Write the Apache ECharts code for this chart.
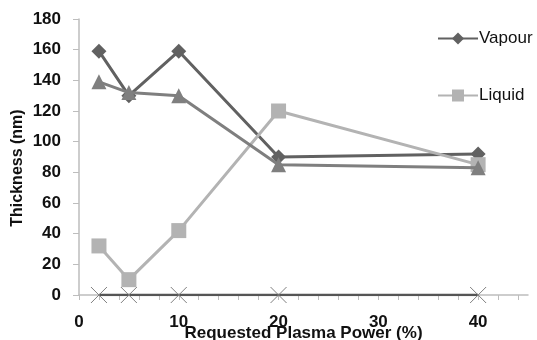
<!DOCTYPE html>
<html>
<head>
<meta charset="utf-8">
<script src="https://cdn.jsdelivr.net/npm/echarts@6/dist/echarts.min.js"></script>
<style>html,body{margin:0;padding:0;background:#fff}#c{width:537px;height:340px}</style>
</head>
<body>
<div id="c"></div>
<script>
var power = [2, 5, 10, 20, 40];
var vapour = [159, 130, 159, 90, 92];
var series3 = [139, 132, 130, 85, 83];
var liquid = [32, 10, 42, 120, 85];
var series4 = [0, 0, 0, 0, 0];
var xTicks = [0, 10, 20, 30, 40];
var yTicks = [0, 20, 40, 60, 80, 100, 120, 140, 160, 180];

function pairs(xs, ys) { return xs.map(function (x, i) { return [x, ys[i]]; }); }

var font = '"Liberation Sans", Arial, sans-serif';
var chart = echarts.init(document.getElementById('c'), null, {renderer: 'canvas'});
chart.setOption({
  animation: false,
  backgroundColor: '#fff',
  grid: {left: 79, top: 19, right: 9, bottom: 45, containLabel: false, outerBoundsMode: 'none'},
  legend: {
    orient: 'vertical', left: 432, top: 25, itemWidth: 40, itemHeight: 15, itemGap: 40,
    data: ['Vapour', 'Liquid'],
    textStyle: {fontFamily: font, fontSize: 17, color: '#111', padding: [0, 0, 0, -4]}
  },
  xAxis: {
    type: 'value', min: 0, max: 45, interval: 2,
    name: 'Requested Plasma Power (%)', nameLocation: 'middle', nameGap: 30, nameMoveOverlap: false,
    nameTextStyle: {fontFamily: font, fontSize: 17, fontWeight: 'bold', color: '#111'},
    axisLine: {lineStyle: {color: '#bdbdbd', width: 1.5}},
    axisTick: {show: true, length: 5, inside: false, lineStyle: {color: '#bdbdbd'}},
    splitLine: {show: false},
    axisLabel: {
      margin: 19, fontFamily: font, fontSize: 17, fontWeight: 'bold', color: '#111',
      showMaxLabel: false, interval: 0,
      formatter: function (v) { return xTicks.indexOf(v) >= 0 ? String(v) : ''; }
    }
  },
  yAxis: {
    type: 'value', min: 0, max: 180, interval: 20,
    name: 'Thickness (nm)', nameLocation: 'middle', nameGap: 53, nameMoveOverlap: false,
    nameTextStyle: {fontFamily: font, fontSize: 16, fontWeight: 'bold', color: '#111', padding: [0, 22, 0, 0]},
    axisLine: {show: true, lineStyle: {color: '#bdbdbd', width: 1.5}},
    axisTick: {show: true, length: 6, lineStyle: {color: '#bdbdbd'}},
    splitLine: {show: false},
    axisLabel: {
      margin: 18, fontFamily: font, fontSize: 17, fontWeight: 'bold', color: '#111',
      formatter: function (v) { return yTicks.indexOf(v) >= 0 ? String(v) : ''; }
    }
  },
  series: [
    {
      name: 'Vapour', type: 'line', data: pairs(power, vapour), z: 3,
      symbol: 'diamond', symbolSize: 15,
      lineStyle: {color: '#616161', width: 3}, itemStyle: {color: '#616161'}
    },
    {
      name: 'Series3', type: 'line', data: pairs(power, series3), z: 4,
      symbol: 'triangle', symbolSize: 15,
      lineStyle: {color: '#7f7f7f', width: 3}, itemStyle: {color: '#7f7f7f'}
    },
    {
      name: 'Liquid', type: 'line', data: pairs(power, liquid), z: 3,
      symbol: 'rect', symbolSize: 15,
      lineStyle: {color: '#b3b3b3', width: 3}, itemStyle: {color: '#b3b3b3'}
    },
    {
      name: 'Series4', type: 'line', data: pairs(power, series4), z: 5,
      symbol: 'path://M0,0L10,10M10,0L0,10', symbolSize: 16,
      lineStyle: {color: '#555555', width: 2.5},
      itemStyle: {color: 'transparent', borderColor: '#808080', borderWidth: 1}
    }
  ]
});
</script>
</body>
</html>
